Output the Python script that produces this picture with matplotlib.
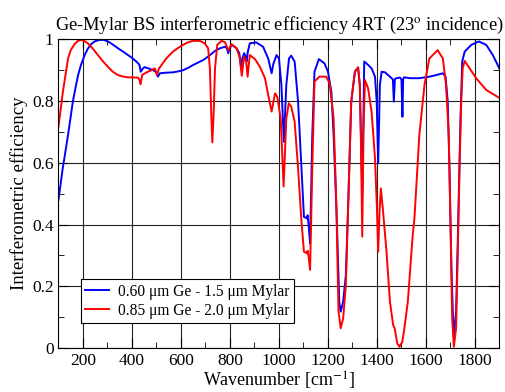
import numpy as np
import matplotlib
matplotlib.use('Agg')
import matplotlib.pyplot as plt
from matplotlib.ticker import MultipleLocator

plt.rcParams['font.family'] = ['Liberation Serif', 'DejaVu Serif']
plt.rcParams['mathtext.fontset'] = 'stix'

# 0.60 um Ge - 1.5 um Mylar
x_blue = [100, 117, 125, 139, 159, 170, 180, 193, 207, 220,
          234, 250, 268, 285, 302, 320, 343, 364, 384, 400,
          418, 430, 436, 444, 451, 470, 487, 500, 506, 514,
          540, 567, 588, 609, 630, 650, 670, 691, 711, 720,
          738, 759, 780, 788, 793, 798, 807, 827, 838, 845,
          851, 858, 864, 868, 873, 881, 907, 935, 956, 964,
          970, 977, 990, 1000, 1010, 1020, 1030, 1041, 1050, 1064,
          1078, 1092, 1102, 1113, 1117, 1122, 1127, 1136, 1145, 1163,
          1186, 1200, 1214, 1223, 1236, 1246, 1252, 1262, 1273, 1283,
          1295, 1310, 1323, 1330, 1340, 1345, 1348, 1364, 1378, 1392,
          1399, 1405, 1412, 1419, 1433, 1453, 1465, 1469, 1473, 1478,
          1494, 1500, 1504, 1507, 1510, 1535, 1573, 1614, 1641, 1669,
          1680, 1689, 1696, 1704, 1713, 1723, 1732, 1741, 1748, 1758,
          1785, 1816, 1846, 1873, 1900]
y_blue = [0.48, 0.58, 0.62, 0.69, 0.80, 0.845, 0.884, 0.92, 0.949, 0.97,
          0.985, 0.994, 0.998, 0.998, 0.993, 0.984, 0.971, 0.96, 0.949, 0.94,
          0.928, 0.918, 0.895, 0.905, 0.91, 0.905, 0.90, 0.893, 0.879, 0.89,
          0.892, 0.893, 0.896, 0.90, 0.908, 0.917, 0.925, 0.933, 0.944, 0.95,
          0.962, 0.971, 0.976, 0.97, 0.955, 0.97, 0.982, 0.971, 0.955, 0.911,
          0.94, 0.955, 0.945, 0.928, 0.96, 0.987, 0.99, 0.976, 0.938, 0.91,
          0.89, 0.92, 0.949, 0.938, 0.852, 0.668, 0.852, 0.938, 0.947, 0.928,
          0.798, 0.582, 0.425, 0.42, 0.43, 0.39, 0.339, 0.69, 0.895, 0.936,
          0.922, 0.895, 0.83, 0.69, 0.42, 0.15, 0.118, 0.15, 0.236, 0.474,
          0.798, 0.895, 0.909, 0.852, 0.50, 0.75, 0.928, 0.917, 0.906, 0.879,
          0.798, 0.598, 0.852, 0.895, 0.893, 0.879, 0.87, 0.798, 0.87, 0.874,
          0.876, 0.87, 0.749, 0.87, 0.877, 0.874, 0.874, 0.879, 0.884, 0.89,
          0.879, 0.798, 0.582, 0.258, 0.037, 0.118, 0.42, 0.744, 0.928, 0.96,
          0.982, 0.993, 0.982, 0.949, 0.905]

# 0.85 um Ge - 2.0 um Mylar
x_red = [100, 118, 139, 150, 166, 180, 193, 206, 220, 240,
         261, 280, 302, 320, 343, 365, 384, 424, 430, 435,
         442, 465, 480, 493, 502, 510, 540, 567, 588, 608,
         628, 649, 677, 697, 711, 718, 724, 728, 733, 739,
         748, 766, 780, 793, 807, 827, 840, 848, 858, 866,
         872, 881, 902, 922, 943, 956, 970, 984, 993, 1007,
         1019, 1030, 1040, 1050, 1064, 1078, 1092, 1102, 1113, 1117,
         1122, 1127, 1136, 1145, 1165, 1193, 1207, 1223, 1234, 1243,
         1252, 1262, 1273, 1283, 1295, 1310, 1323, 1330, 1335, 1340,
         1345, 1351, 1364, 1378, 1392, 1400, 1405, 1411, 1416, 1425,
         1439, 1453, 1466, 1472, 1483, 1492, 1497, 1503, 1512, 1526,
         1546, 1553, 1573, 1594, 1614, 1648, 1669, 1682, 1693, 1701,
         1707, 1714, 1723, 1730, 1737, 1744, 1750, 1758, 1778, 1805,
         1846, 1900]
y_red = [0.717, 0.83, 0.938, 0.965, 0.985, 0.995, 0.998, 0.995, 0.987, 0.97,
         0.949, 0.93, 0.911, 0.896, 0.884, 0.879, 0.877, 0.876, 0.87, 0.854,
         0.885, 0.895, 0.90, 0.906, 0.884, 0.905, 0.938, 0.96, 0.972, 0.982,
         0.99, 0.995, 0.995, 0.987, 0.971, 0.906, 0.75, 0.666, 0.75, 0.906,
         0.982, 0.995, 0.99, 0.965, 0.984, 0.971, 0.94, 0.882, 0.944, 0.93,
         0.879, 0.949, 0.936, 0.911, 0.874, 0.82, 0.766, 0.825, 0.814, 0.744,
         0.523, 0.744, 0.793, 0.782, 0.733, 0.582, 0.409, 0.312, 0.307, 0.315,
         0.29, 0.253, 0.582, 0.863, 0.879, 0.879, 0.857, 0.744, 0.474, 0.12,
         0.064, 0.096, 0.204, 0.474, 0.798, 0.895, 0.909, 0.852, 0.65, 0.361,
         0.70, 0.868, 0.841, 0.766, 0.615, 0.45, 0.312, 0.45, 0.517, 0.442,
         0.312, 0.15, 0.075, 0.065, 0.015, 0.004, 0.012, 0.018, 0.064, 0.15,
         0.366, 0.42, 0.69, 0.852, 0.938, 0.965, 0.938, 0.852, 0.69, 0.366,
         0.096, 0.004, 0.064, 0.312, 0.582, 0.798, 0.906, 0.93, 0.906, 0.874,
         0.836, 0.81]

labels = ['0.60 μm Ge - 1.5 μm Mylar', '0.85 μm Ge - 2.0 μm Mylar']

fig = plt.figure(figsize=(5.05, 3.92), dpi=100)
ax = fig.add_axes([0.1158, 0.1122, 0.8732, 0.7875])

ax.plot(x_blue, y_blue, color='#0000ff', lw=1.4, label=labels[0])
ax.plot(x_red, y_red, color='#ff0000', lw=1.4, label=labels[1])

ax.set_xlim(100, 1900)
ax.set_ylim(0, 1)
ax.set_xticks(range(200, 1801, 200))
ax.set_yticks([0, 0.2, 0.4, 0.6, 0.8, 1])
ax.set_yticklabels(['0', '0.2', '0.4', '0.6', '0.8', '1'])
ax.xaxis.set_minor_locator(MultipleLocator(100))
ax.yaxis.set_minor_locator(MultipleLocator(0.1))
ax.tick_params(which='both', direction='in', top=True, right=True, labelsize=12.5)
ax.tick_params(which='major', length=7)
ax.tick_params(which='minor', length=4)
ax.grid(True, which='major', color='#222222', lw=0.8)
ax.set_axisbelow(True)

ax.set_title('Ge-Mylar BS interferometric efficiency 4RT (23$^{\\mathrm{o}}$ incidence)',
             fontsize=13.2, pad=7)
ax.set_xlabel('Wavenumber [cm$^{-1}$]', fontsize=13, labelpad=1)
ax.set_ylabel('Interferometric efficiency', fontsize=13.5, labelpad=3)

leg = ax.legend(loc='lower left', bbox_to_anchor=(0.05, 0.08), fontsize=11.2,
                fancybox=False, edgecolor='black', framealpha=1,
                handlelength=1.5, borderpad=0.3, labelspacing=0.2,
                handletextpad=0.6, borderaxespad=0)
leg.get_frame().set_linewidth(0.8)

plt.savefig('out.png', dpi=100)
